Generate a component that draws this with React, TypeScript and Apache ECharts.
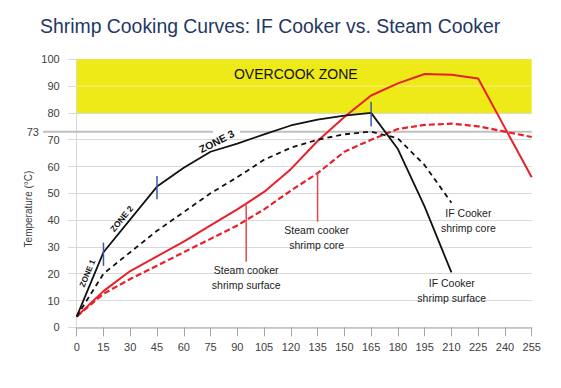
import React, { useEffect, useRef } from "react";
import * as echarts from "echarts";

const TITLE = "Shrimp Cooking Curves: IF Cooker vs. Steam Cooker";
const Y_NAME = "Temperature (°C)";

const ifSurfaceX = [0, 15, 45, 60, 75, 90, 105, 120, 135, 150, 165, 180, 195, 210];
const ifSurfaceY = [4, 28, 52.5, 59.5, 65.5, 68.5, 72, 75.3, 77.5, 79, 80, 66.5, 45, 20.5];

const ifCoreX = [0, 15, 30, 45, 60, 75, 90, 105, 120, 135, 150, 165, 180, 195, 210];
const ifCoreY = [4, 20, 28, 36, 43, 50, 56, 62.5, 67, 70, 72, 73, 70.5, 60.5, 46.5];

const steamSurfaceX = [0, 15, 30, 45, 60, 75, 90, 105, 120, 135, 150, 165, 180, 195, 210, 225, 255];
const steamSurfaceY = [4, 13.5, 21, 26.5, 32, 38, 44, 50.5, 59, 69.5, 78.5, 86.5, 91, 94.5, 94.2, 92.8, 56];

const steamCoreX = [0, 15, 30, 45, 60, 75, 90, 105, 120, 135, 150, 165, 180, 195, 210, 225, 240, 255];
const steamCoreY = [4, 12.5, 18, 23, 28, 33, 38, 44, 51, 57.5, 65.5, 70, 74, 75.5, 76, 75, 73, 71];

const X_MIN = 0;
const X_MAX = 255;
const X_STEP = 15;
const Y_MIN = 0;
const Y_MAX = 100;
const Y_STEP = 10;

const OVERCOOK_FROM = 80;
const OVERCOOK_TO = 100;
const REF_TEMP = 73;

const zip = (xs: number[], ys: number[]) => xs.map((x, i) => [x, ys[i]]);

const FONT = "'Liberation Sans', Arial, sans-serif";

export default function App() {
  const ref = useRef<HTMLDivElement>(null);
  useEffect(() => {
    if (!ref.current) return;
    const chart = echarts.init(ref.current, null, { renderer: "svg" });
    const black = "#111111";
    const red = "#e8202a";
    chart.setOption({
      animation: false,
      backgroundColor: "#ffffff",
      title: {
        text: TITLE,
        left: 40,
        top: 16,
        padding: 0,
        textStyle: { fontFamily: FONT, fontSize: 19.4, fontWeight: "normal", color: "#1f3864" },
      },
      grid: { left: 76.7, right: 29.3, top: 59.3, bottom: 60.7, containLabel: false },
      xAxis: {
        type: "value",
        min: X_MIN,
        max: X_MAX,
        interval: X_STEP,
        axisLine: { lineStyle: { color: "#bfbfbf", width: 1.5 } },
        axisTick: { show: true, length: 9, lineStyle: { color: "#a6a6a6" } },
        axisLabel: { color: "#404040", fontSize: 11, fontFamily: FONT, margin: 14 },
        splitLine: { show: false },
      },
      yAxis: {
        type: "value",
        min: Y_MIN,
        max: Y_MAX,
        interval: Y_STEP,
        axisLine: { show: true, lineStyle: { color: "#d9d9d9" } },
        axisTick: { show: true, length: 9, lineStyle: { color: "#d9d9d9" } },
        axisLabel: { color: "#404040", fontSize: 11, fontFamily: FONT, margin: 17 },
        splitLine: { show: true, lineStyle: { color: "#d9d9d9" } },
      },
      series: [
        {
          type: "line",
          name: "Steam cooker shrimp surface",
          data: zip(steamSurfaceX, steamSurfaceY),
          symbol: "none",
          lineStyle: { color: red, width: 2 },
          z: 3,
          markArea: {
            silent: true,
            itemStyle: { color: "#eeea17" },
            data: [[{ xAxis: X_MIN, yAxis: OVERCOOK_FROM }, { xAxis: X_MAX, yAxis: OVERCOOK_TO }]],
          },
        },
        {
          type: "line",
          name: "Steam cooker shrimp core",
          data: zip(steamCoreX, steamCoreY),
          symbol: "none",
          lineStyle: { color: red, width: 2.2, type: [6, 3] },
          z: 3,
        },
        {
          type: "line",
          name: "IF Cooker shrimp surface",
          data: zip(ifSurfaceX, ifSurfaceY),
          symbol: "none",
          lineStyle: { color: black, width: 1.8 },
          z: 3,
        },
        {
          type: "line",
          name: "IF Cooker shrimp core",
          data: zip(ifCoreX, ifCoreY),
          symbol: "none",
          lineStyle: { color: black, width: 1.8, type: [5, 4] },
          z: 3,
        },
      ],
    });

    const P = (x: number, y: number) => chart.convertToPixel({ gridIndex: 0 }, [x, y]) as number[];
    const deg = (d: number) => (d * Math.PI) / 180;

    const p73a = P(X_MIN, REF_TEMP);
    const gapA = P(76.4, REF_TEMP);
    const gapB = P(91.5, REF_TEMP);
    const p73b = P(X_MAX, REF_TEMP);
    const line90a = P(X_MIN, 90);
    const line90b = P(X_MAX, 90);

    const vline = (x: number, y1: number, y2: number, color: string, w: number, z: number) => {
      const a = P(x, y1);
      const b = P(x, y2);
      return { type: "line", z, shape: { x1: a[0], y1: a[1], x2: b[0], y2: b[1] }, style: { stroke: color, lineWidth: w } };
    };

    const text = (x: number, y: number, t: string, extra: any = {}, rot = 0) => {
      const p = P(x, y);
      return {
        type: "text",
        z: 100,
        x: p[0],
        y: p[1],
        rotation: deg(rot),
        style: {
          text: t,
          x: 0,
          y: 0,
          align: "center",
          verticalAlign: "middle",
          fontFamily: FONT,
          fontSize: 10.5,
          lineHeight: 15,
          fill: "#222222",
          ...extra,
        },
      };
    };

    const blue = "#3a5ba8";
    const annRed = "#e8474a";

    chart.setOption({
      graphic: [
        {
          type: "text",
          z: 100,
          x: 28,
          y: 209,
          rotation: deg(90),
          style: { text: Y_NAME, x: 0, y: 0, fontFamily: FONT, fontSize: 10, fill: "#404040", align: "center", verticalAlign: "middle" },
        },
        { type: "line", z: 1, shape: { x1: 43, y1: p73a[1], x2: gapA[0], y2: gapA[1] }, style: { stroke: "#bfbfbf", lineWidth: 2 } },
        { type: "line", z: 1, shape: { x1: gapB[0], y1: gapB[1], x2: p73b[0], y2: p73b[1] }, style: { stroke: "#bfbfbf", lineWidth: 2 } },
        {
          type: "text",
          z: 100,
          x: 39,
          y: p73a[1],
          style: { text: String(REF_TEMP), x: 0, y: 0, fontFamily: FONT, fontSize: 11, fill: "#404040", align: "right", verticalAlign: "middle" },
        },
        { type: "line", z: 2, shape: { x1: line90a[0], y1: line90a[1], x2: line90b[0], y2: line90b[1] }, style: { stroke: "#f2f08c", lineWidth: 1 } },
        text(122.8, 94.5, "OVERCOOK ZONE", { fontSize: 14, fill: "#111111" }),
        text(6.1, 20.1, "ZONE 1", { fontSize: 8, fontWeight: "bold", fill: "#111111" }, 67),
        text(25.2, 40.5, "ZONE 2", { fontSize: 8.5, fontWeight: "bold", fill: "#111111" }, 51),
        text(78.5, 69.3, "ZONE 3", { fontSize: 10.5, fontWeight: "bold", fill: "#111111" }, 27),
        vline(15, 22.9, 31.6, blue, 1.5, 100),
        vline(45, 47.8, 56.5, blue, 1.5, 100),
        vline(165, 74.9, 84.2, blue, 1.5, 100),
        vline(95, 46.5, 24.5, annRed, 1.5, 100),
        vline(135, 57.5, 39.4, annRed, 1.5, 100),
        text(95, 18.4, "Steam cooker\nshrimp surface"),
        text(134.5, 33.5, "Steam cooker\nshrimp core"),
        text(219.5, 39.7, "IF Cooker\nshrimp core"),
        text(210.2, 13.6, "IF Cooker\nshrimp surface"),
      ],
    });

    return () => chart.dispose();
  }, []);
  return <div ref={ref} style={{ width: 561, height: 388, position: "absolute", left: 0, top: 0 }} />;
}
